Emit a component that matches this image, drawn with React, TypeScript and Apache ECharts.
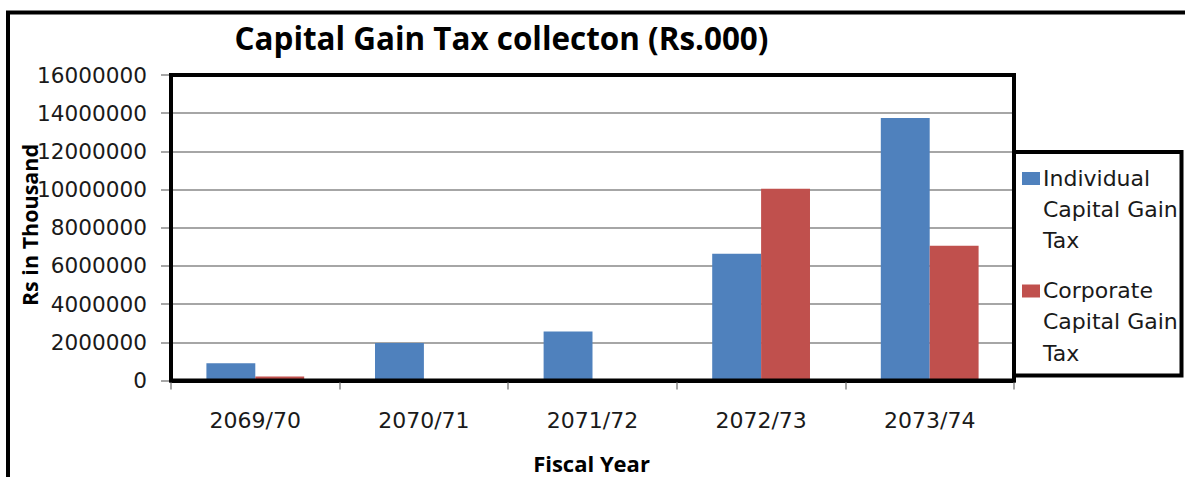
import React, { useEffect, useRef } from "react";
import * as echarts from "echarts";

const titleText = "Capital Gain Tax collecton (Rs.000)";
const yAxisTitle = "Rs in Thousand";
const xAxisTitle = "Fiscal Year";
const categories = ["2069/70", "2070/71", "2071/72", "2072/73", "2073/74"];
const individualTax = [905000, 1960000, 2560000, 6640000, 13750000];
const corporateTax = [210000, 0, 0, 10040000, 7060000];
const seriesNames = ["Individual\nCapital Gain\nTax", "Corporate\nCapital Gain\nTax"];
const seriesColors = ["#4F81BD", "#C0504D"];
const yMin = 0;
const yMax = 16000000;
const yInterval = 2000000;

const REG = "'DejaVu Sans', sans-serif";
const BOLD = "'Open Sans', sans-serif";

export default function App() {
  const ref = useRef<HTMLDivElement>(null);
  useEffect(() => {
    if (!ref.current) return;
    const chart = echarts.init(ref.current, null, { renderer: "svg" });
    const seriesData = [individualTax, corporateTax];
    const legendTops = [162.5, 275];
    const legendGraphics: any[] = [];
    seriesNames.forEach((name, i) => {
      legendGraphics.push({
        type: "rect",
        z: 110,
        shape: { x: 1022, y: legendTops[i] + 9.5, width: 18, height: 13 },
        style: { fill: seriesColors[i] },
      });
      legendGraphics.push({
        type: "text",
        z: 110,
        x: 1043,
        y: legendTops[i],
        style: {
          text: name,
          fontFamily: REG,
          fontSize: 22,
          lineHeight: 31.3,
          fill: "#1a1a1a",
          align: "left",
          verticalAlign: "top",
        },
      });
    });
    chart.setOption({
      animation: false,
      backgroundColor: "#fff",
      grid: { left: 171, top: 75, width: 843, height: 305.5, containLabel: false },
      xAxis: {
        type: "category",
        data: categories,
        boundaryGap: true,
        axisLine: { show: true, lineStyle: { color: "#000", width: 4 } },
        axisTick: { show: true, length: 9, lineStyle: { color: "#888", width: 1.5 } },
        axisLabel: { margin: 29, fontFamily: REG, fontSize: 22, color: "#1a1a1a" },
      },
      yAxis: {
        type: "value",
        min: yMin,
        max: yMax,
        interval: yInterval,
        axisLine: { show: false },
        axisTick: { show: true, length: 10, lineStyle: { color: "#888", width: 1.5 } },
        splitLine: { show: true, lineStyle: { color: "#888", width: 1.5 } },
        axisLabel: {
          margin: 24,
          fontFamily: REG,
          fontSize: 21.6,
          color: "#1a1a1a",
          formatter: (v: number) => String(v),
        },
      },
      series: seriesNames.map((name, i) => ({
        type: "bar",
        name,
        data: seriesData[i],
        itemStyle: { color: seriesColors[i] },
        barGap: "0%",
        barCategoryGap: "42%",
      })),
      graphic: [
        {
          type: "rect",
          z: 100,
          shape: { x: 8, y: 12.5, width: 1400, height: 800 },
          style: { fill: "none", stroke: "#000", lineWidth: 4 },
        },
        {
          type: "rect",
          z: 100,
          shape: { x: 171, y: 75, width: 843, height: 305.5 },
          style: { fill: "none", stroke: "#000", lineWidth: 4 },
        },
        {
          type: "rect",
          z: 105,
          shape: { x: 1014, y: 152, width: 167.5, height: 223.5 },
          style: { fill: "#fff", stroke: "#000", lineWidth: 4 },
        },
        ...legendGraphics,
        {
          type: "text",
          z: 110,
          x: 501.5,
          y: 37,
          style: {
            text: titleText,
            fontFamily: BOLD,
            fontWeight: "bold",
            fontSize: 31.4,
            fill: "#000",
            align: "center",
            verticalAlign: "middle",
          },
        },
        {
          type: "text",
          z: 110,
          x: 29.5,
          y: 225,
          rotation: Math.PI / 2,
          style: {
            text: yAxisTitle,
            fontFamily: BOLD,
            fontWeight: "bold",
            fontSize: 21.5,
            fill: "#000",
            align: "center",
            verticalAlign: "middle",
          },
        },
        {
          type: "text",
          z: 110,
          x: 591.5,
          y: 463,
          style: {
            text: xAxisTitle,
            fontFamily: BOLD,
            fontWeight: "bold",
            fontSize: 22,
            fill: "#000",
            align: "center",
            verticalAlign: "middle",
          },
        },
      ],
    });
    return () => chart.dispose();
  }, []);
  return (
    <div
      ref={ref}
      style={{ position: "absolute", left: 0, top: 0, width: 1185, height: 477 }}
    />
  );
}
